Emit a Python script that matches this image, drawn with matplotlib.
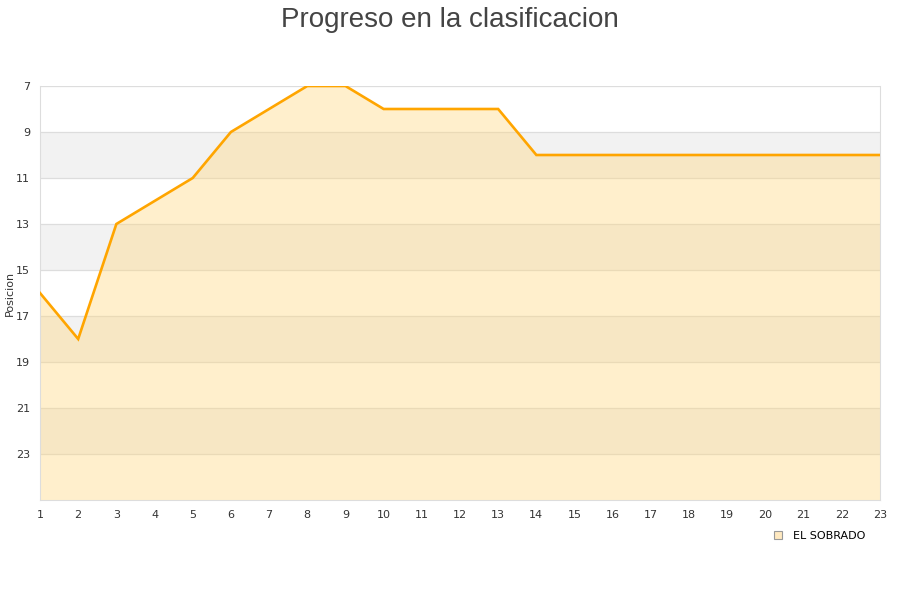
import matplotlib
matplotlib.use("Agg")
import matplotlib.pyplot as plt
from matplotlib.patches import Patch

jornadas = list(range(1, 24))
posiciones = [16, 18, 13, 12, 11, 9, 8, 7, 7, 8, 8, 8, 8, 10, 10, 10, 10, 10, 10, 10, 10, 10, 10]
yticks = [7, 9, 11, 13, 15, 17, 19, 21, 23]
equipo = "EL SOBRADO"

fig = plt.figure(figsize=(9, 6), dpi=100)
ax = fig.add_axes([40 / 900, 100 / 600, 840 / 900, 414 / 600])

# alternating bands
for lo in [9, 13, 17, 21]:
    ax.axhspan(lo, lo + 2, color="#f2f2f2", lw=0, zorder=0)

ax.fill_between(jornadas, posiciones, 25, color="#ffd780", alpha=0.4, lw=0, zorder=1)
ax.plot(jornadas, posiciones, color="#ffa500", lw=1.9, zorder=3, solid_joinstyle="miter")

ax.set_xlim(1, 23)
ax.set_ylim(25, 7)
ax.set_xticks(jornadas)
ax.set_yticks(yticks)
ax.grid(axis="y", color="#dddddd", lw=0.9, zorder=0.5)
ax.set_axisbelow(True)
ax.tick_params(length=0, labelsize=8, colors="#333333", pad=7)
for s in ["left", "right", "bottom"]:
    ax.spines[s].set_color("#dddddd")
ax.spines["top"].set_visible(False)
ax.set_ylabel("Posicion", fontsize=8, color="#333333")
ax.yaxis.set_label_coords(-25 / 840, 0.5)

fig.text(0.5, 1 - 20 / 600, "Progreso en la clasificacion", ha="center", va="center",
         fontsize=20, color="#444444", family="Liberation Sans")

handle = Patch(facecolor="#ffe9c0", edgecolor="#999999", lw=0.8)
fig.legend([handle], [equipo], loc="center", bbox_to_anchor=(820 / 900, 1 - 536 / 600),
           frameon=False, fontsize=8, handlelength=0.7, handleheight=0.7, handletextpad=1.0)

fig.savefig("out.png", dpi=100, facecolor="white")
